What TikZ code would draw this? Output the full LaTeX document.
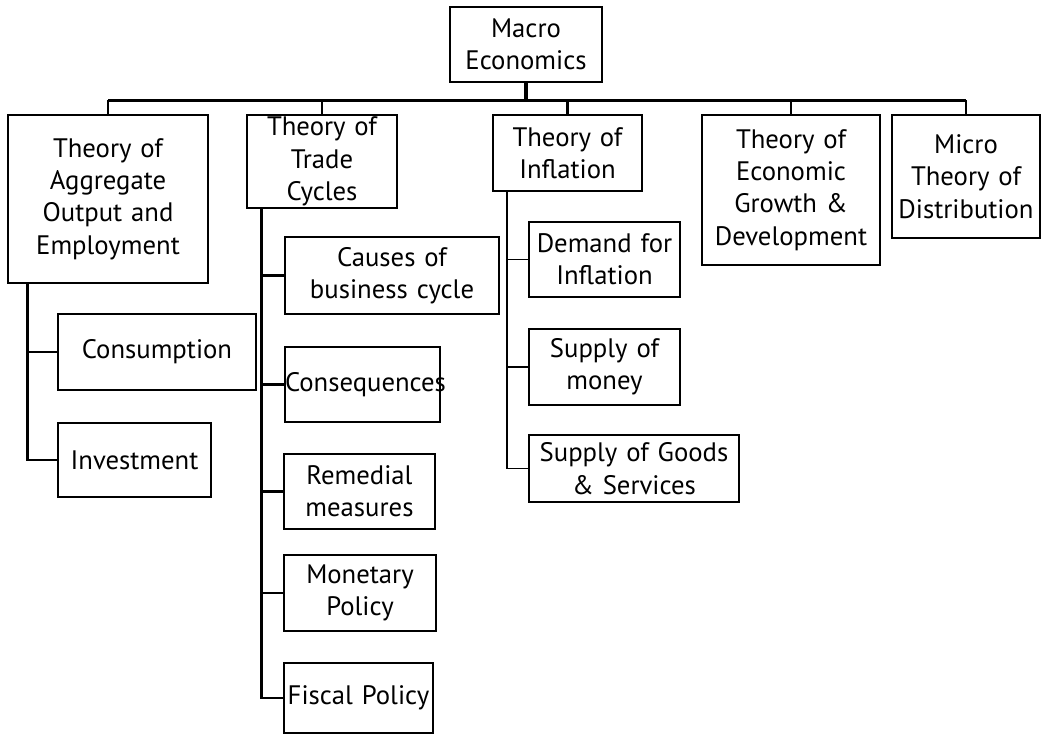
\documentclass[tikz,border=0pt]{standalone}
\usepackage{fontspec}
\setmainfont{PT Sans}

\begin{document}
\begin{tikzpicture}[font=\fontsize{19}{23}\selectfont,
  box/.style 2 args={draw,line width=1.9pt,inner sep=0pt,align=center,text width=#1,minimum width=#1,minimum height=#2},
  ln/.style={line width=1.9pt},
  thin/.style={line width=1.3pt},
  bus/.style={line width=2.5pt}]
  \useasboundingbox (0,0) rectangle (26.05,-18.375);
  \node[box={3.8cm}{1.875cm}] (macro) at (13.15,-1.1125) {Macro\\Economics};
  % main branches
  \node[box={5cm}{4.2cm}] (agg) at (2.7,-4.975) {Theory of\\Aggregate\\Output and\\Employment};
  \node[box={3.75cm}{2.325cm}] (trade) at (8.05,-4.0375) {Theory of\\Trade\\Cycles};
  \node[box={3.725cm}{1.9cm}] (infl) at (14.1875,-3.825) {Theory of\\Inflation};
  \node[box={4.45cm}{3.75cm}] (growth) at (19.775,-4.75) {Theory of\\Economic\\Growth \&\\Development};
  \node[box={3.7cm}{3.075cm}] (micro) at (24.15,-4.4125) {Micro\\Theory of\\Distribution};
  % sub-branches
  \node[box={4.95cm}{1.9cm}] (cons) at (3.925,-8.8) {Consumption};
  \node[box={3.825cm}{1.85cm}] (inv) at (3.3625,-11.5) {Investment};
  \node[box={5.35cm}{1.925cm}] (causes) at (9.8,-6.8875) {Causes of\\business cycle};
  \node[box={3.875cm}{1.875cm}] (conseq) at (9.0625,-9.6125) {Consequences};
  \node[box={3.775cm}{1.875cm}] (remedy) at (8.9875,-12.2875) {Remedial\\measures};
  \node[box={3.8cm}{1.9cm}] (monetary) at (9.0,-14.825) {Monetary\\Policy};
  \node[box={3.725cm}{1.75cm}] (fiscal) at (8.9625,-17.45) {Fiscal Policy};
  \node[box={3.775cm}{1.875cm}] (demand) at (15.1125,-6.4875) {Demand for\\Inflation};
  \node[box={3.775cm}{1.9cm}] (money) at (15.1125,-9.175) {Supply of\\money};
  \node[box={5.25cm}{1.675cm}] (goods) at (15.85,-11.7125) {Supply of Goods\\\& Services};
  % top bus
  \draw[bus] (macro.south) -- ++(0,-0.425) coordinate (hub);
  \draw[bus] (agg.north |- hub) -- (micro.north |- hub);
  \foreach \t in {agg,trade,infl,growth,micro} {\draw[ln] (\t.north |- hub) -- (\t.north);}
  % stems
  \coordinate (s1) at ([xshift=0.525cm]agg.south west);
  \foreach \c in {cons,inv} {\draw[ln] (s1) |- (\c.west);}
  \coordinate (s2) at ([xshift=0.4cm]trade.south west);
  \foreach \c in {causes,conseq,remedy,monetary,fiscal} {\draw[ln] (s2) |- (\c.west);}
  \coordinate (s3) at ([xshift=0.375cm]infl.south west);
  \foreach \c in {demand,money,goods} {\draw[thin] (s3) |- (\c.west);}
\end{tikzpicture}
\end{document}
